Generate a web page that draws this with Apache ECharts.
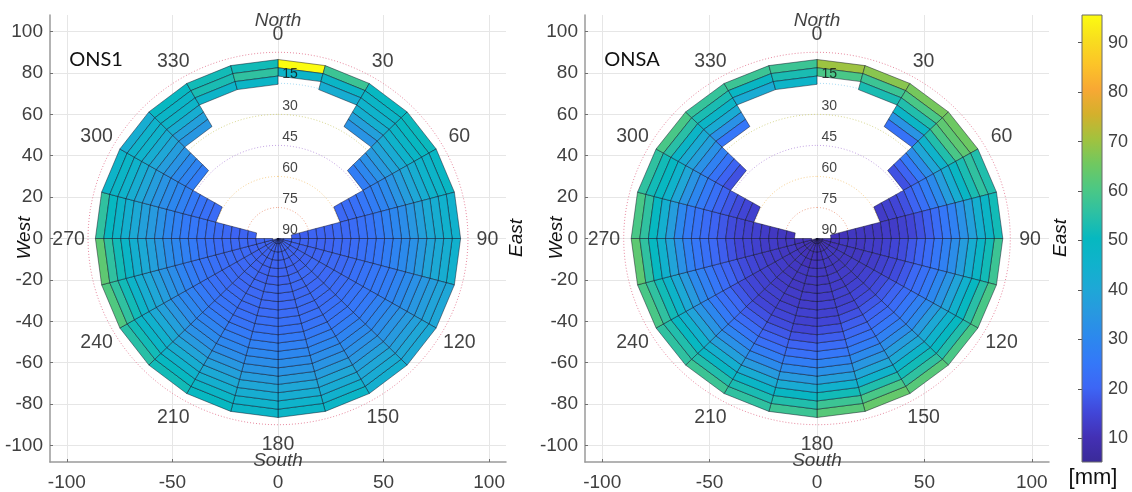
<!DOCTYPE html>
<html><head><meta charset="utf-8">
<style>html,body{margin:0;padding:0;background:#fff}#c{width:1132px;height:492px}</style>
<script src="https://cdn.jsdelivr.net/npm/echarts@6/dist/echarts.min.js"></script>
</head><body><div id="c"></div>
<script>
// Cell boundaries
const sectorWidth = 15;
const ringEdges = [86.5,82.5,78.5,74.5,70.5,66.5,62.5,58.5,54.5,50.5,46.5,42.5,38.5,34.5,30.5,26.5,22.5,18.5,14.5,10.5,6.5,2.5,0];
// Values in mm: one row per azimuth sector (0-15, 15-30, ...), outer ring first
const ons1 = [
[95.6,47],
[58,48,43],
[50,48,46,44,38,34],
[51,50,48,46,42,39,36,33,30,27],
[49,47,46,43,40,37,34,31,29,27,25,23,22,21],
[45,45,43,41,38,35,32,30,28,26,24,23,22,21,21,20,20,20,19,19],
[45,43,41,39,36,33,31,29,27,25,24,23,22,21,21,20,20,20,20,20,20,20],
[40,39,37,35,33,31,29,27,26,25,24,23,22,21,21,21,20,20,20,20,20,20],
[41,40,38,36,34,32,30,28,26,25,24,23,22,22,21,21,21,20,20,20,20,20],
[44,42,40,38,35,33,31,29,27,25,24,23,22,22,21,21,21,20,20,20,20,20],
[48,45,42,40,37,34,32,30,28,26,24,23,22,22,21,21,21,20,20,20,20,20],
[48,46,43,40,37,34,32,30,28,26,24,23,22,21,21,21,20,20,20,20,20,20],
[48,46,43,40,37,34,32,30,28,26,24,23,22,21,21,21,20,20,20,20,20,20],
[50,48,44,41,38,35,32,30,28,26,24,23,22,22,21,21,20,20,20,20,20,20],
[52,50,46,43,39,36,33,31,29,27,25,24,23,22,21,21,21,20,20,20,20,20],
[55,52,48,45,41,38,35,32,30,28,26,24,23,22,22,21,21,21,20,20,20,20],
[61,56,52,47,43,40,37,34,32,29,27,25,24,23,22,22,21,21,20,20,20,20],
[63,56,52,48,44,41,38,35,32,30,28,26,24,23,22,22,21,21,20,20,20],
[56,50,47,44,41,38,36,33,30,28,26,25,24,23,22,21,20,20,20],
[47,48,46,43,40,37,34,32,30,28,26,24,23,22],
[43,46,46,43,40,37,34,31,29,27],
[50,48,47,43,38,35],
[52,53,47],
[52,56,48]
];
const onsa = [
[70,60],
[68,58,53],
[66,60,54,48,34,24],
[65,63,60,54,46,40,32,26,20,17],
[54,56,53,49,43,37,31,27,23,20,17,15,14,13],
[52,48,44,38,33,28,25,22,19,17,15,14,13,13,12,12,12,12,11,11],
[58,52,48,43,37,32,28,25,22,20,18,16,15,14,13,13,12,12,12,11,11,11],
[60,55,50,45,39,34,30,26,23,21,18,16,15,14,13,13,12,12,12,11,11,11],
[60,54,50,46,41,36,31,28,25,22,20,18,16,15,14,13,13,12,12,12,11,11],
[62,56,52,47,41,37,32,28,25,22,20,18,16,15,14,13,13,12,12,12,11,11],
[64,60,54,46,40,35,31,27,24,21,19,17,15,14,14,13,13,12,12,12,11,11],
[62,58,52,45,38,33,29,25,22,19,17,15,14,14,13,13,12,12,12,11,11,11],
[58,54,49,42,36,31,27,23,20,17,15,14,14,13,13,12,12,12,11,11,11,11],
[56,53,48,42,36,31,27,23,20,18,16,15,14,13,13,12,12,12,11,11,11,11],
[58,54,49,44,38,33,29,25,22,19,17,15,14,14,13,13,12,12,12,11,11,11],
[56,54,50,45,39,34,30,26,23,21,18,16,15,14,14,13,13,12,12,11,11,11],
[60,56,52,47,41,36,31,28,25,22,20,18,16,15,14,13,13,12,12,11,11,11],
[63,56,50,45,39,33,28,25,23,21,19,17,15,15,14,13,13,12,12,11,11],
[60,56,50,44,37,30,26,24,22,20,18,16,15,14,14,13,12,12,11],
[56,52,50,46,40,34,30,26,23,20,18,16,15,14],
[60,55,48,42,38,33,28,24,20,17],
[57,53,48,42,33,25],
[58,49,42],
[58,53,47]
];
// Colour scale
const scaleMin = 5.2, scaleMax = 95.6;
const scaleColors = ['#3a2a98','#4330b4','#4146d8','#3d66f5','#3478f8','#2c88ee','#2898e0','#1ea8d6','#10b2cc','#06b8c0','#2cc0a4','#4cc884','#70c860','#a2c23e','#d4b02c','#f8a834','#fcc428','#f8de1e','#fcfc10'];
// Tick labels and annotations
const xTicks = [-100,-50,0,50,100];
const yTicks = [-100,-80,-60,-40,-20,0,20,40,60,80,100];
const barTicks = [10,20,30,40,50,60,70,80,90];
const azimuthLabels = [0,30,60,90,120,150,180,210,240,270,300,330];
const elevationLabels = [15,30,45,60,75,90];
const ringRadii = [90,75,60,45,30,15];
const ringColors = ['#e88aa0','#a8dcf4','#d8d890','#c4a4e4','#f8d294','#f0a890'];

const LS = 'Liberation Sans';
function polar(az, r){ const a = az*Math.PI/180; return [r*Math.sin(a), r*Math.cos(a)]; }
function cells(rows){
  const out = [];
  rows.forEach((row,s)=>row.forEach((v,i)=>out.push([s*sectorWidth,(s+1)*sectorWidth,ringEdges[i],ringEdges[i+1],v])));
  return out;
}
function renderCell(params, api){
  const az0=api.value(0), az1=api.value(1), rOut=api.value(2), rIn=api.value(3);
  const pts=[polar(az0,rOut),polar(az1,rOut),polar(az1,rIn),polar(az0,rIn)].map(p=>api.coord(p));
  return {type:'polygon',shape:{points:pts},style:{fill:api.visual('color'),stroke:'rgba(10,10,30,0.62)',lineWidth:0.75}};
}
function axisCommon(ticks){
  return {type:'value',min:-108,max:108,
    axisLine:{show:true,onZero:false,lineStyle:{color:'#9a9a9a',width:1.5}},
    axisTick:{show:true,inside:true,length:3,customValues:ticks,lineStyle:{color:'#707070'}},
    axisLabel:{customValues:ticks,color:'#404040',fontFamily:LS,fontSize:19,margin:7,padding:[2,0,0,0]},
    splitLine:{show:true,lineStyle:{color:'#e6e6e6',width:1}}};
}
const grids=[{left:50,top:15,width:456,height:447},{left:585,top:15,width:464,height:447},{left:1082,top:15,width:20,height:447}];
const xAxes=[0,1].map(i=>{const a=axisCommon(xTicks);a.axisLabel.margin=9;return Object.assign(a,{gridIndex:i,position:'bottom'});});
const yAxes=[0,1].map(i=>Object.assign(axisCommon(yTicks),{gridIndex:i,position:'left'}));
xAxes.push({gridIndex:2,type:'value',min:0,max:1,show:false});
yAxes.push({gridIndex:2,type:'value',min:scaleMin,max:scaleMax,position:'right',
  axisLine:{show:false},splitLine:{show:false},
  axisTick:{show:true,inside:true,length:4,customValues:barTicks,lineStyle:{color:'#555'}},
  axisLabel:{customValues:barTicks,color:'#404040',fontFamily:LS,fontSize:18,margin:6}});

const series=[];
[ons1,onsa].forEach((rows,p)=>{
  ringRadii.forEach((r,k)=>{
    const pts=[]; for(let a=0;a<=360;a+=3) pts.push(polar(a,r));
    series.push({type:'line',xAxisIndex:p,yAxisIndex:p,data:pts,showSymbol:false,silent:true,z:1,
      lineStyle:{type:[1,2],width:1,color:ringColors[k]}});
  });
  series.push({type:'custom',xAxisIndex:p,yAxisIndex:p,data:cells(rows),renderItem:renderCell,z:2,silent:true,
    encode:{x:0,y:2}});
  series.push({type:'scatter',xAxisIndex:p,yAxisIndex:p,symbolSize:0,z:5,silent:true,
    data:azimuthLabels.map(a=>{const q=polar(a,99.2);return {value:[q[0],q[1]-0.6],name:String(a)};}),
    label:{show:true,position:'inside',formatter:'{b}',color:'#111',fontFamily:LS,fontSize:19.5}});
  series.push({type:'scatter',xAxisIndex:p,yAxisIndex:p,symbolSize:0,z:5,silent:true,
    data:elevationLabels.map((e,k)=>({value:[5.7,90-e+4.2],name:String(e)})),
    label:{show:true,position:'inside',formatter:'{b}',color:'#111',fontFamily:LS,fontSize:14}});
  series.push({type:'scatter',xAxisIndex:p,yAxisIndex:p,symbolSize:0,z:5,silent:true,
    data:[{value:[0,105.4],name:'North'},{value:[0,-107.2],name:'South'}],
    label:{show:true,position:'inside',formatter:'{b}',color:'#111',fontFamily:LS,fontStyle:'italic',fontSize:19}});
});
const seriesCustomIdx=series.map((s,i)=>s.type==='custom'?i:-1).filter(i=>i>=0);
const stops=scaleColors.map((c,i)=>({offset:i/(scaleColors.length-1),color:c}));
series.push({type:'custom',xAxisIndex:2,yAxisIndex:2,data:[[0,scaleMin,1,scaleMax]],z:3,silent:true,
  renderItem:(params,api)=>{
    const a=api.coord([api.value(0),api.value(1)]), b=api.coord([api.value(2),api.value(3)]);
    return {type:'rect',shape:{x:a[0],y:b[1],width:b[0]-a[0],height:a[1]-b[1]},
      style:{fill:new echarts.graphic.LinearGradient(0,1,0,0,stops),stroke:'#6a6a6a',lineWidth:1}};
  }});
function txt(x,y,t,font,rot){
  return {type:'text',x,y,rotation:rot||0,z:10,silent:true,
    style:{text:t,font,fill:'#111',align:'center',verticalAlign:'middle'}};
}
const ital='italic 19px "Liberation Sans"';
const chart=echarts.init(document.getElementById('c'),null,{renderer:'canvas'});
chart.setOption({
  animation:false,backgroundColor:'#fff',grid:grids,xAxis:xAxes,yAxis:yAxes,series,
  visualMap:{show:false,type:'continuous',min:scaleMin,max:scaleMax,dimension:4,seriesIndex:seriesCustomIdx,inRange:{color:scaleColors}},
  graphic:[
    txt(96,60,'ONS1','20px Lato'),
    txt(632,60,'ONSA','20px Lato'),
    txt(25,238,'West',ital,Math.PI/2),
    txt(517,238,'East',ital,Math.PI/2),
    txt(557,238,'West',ital,Math.PI/2),
    txt(1061,238,'East',ital,Math.PI/2),
    txt(1093,478,'[mm]','22px "Liberation Sans"')
  ]
});
</script></body></html>
